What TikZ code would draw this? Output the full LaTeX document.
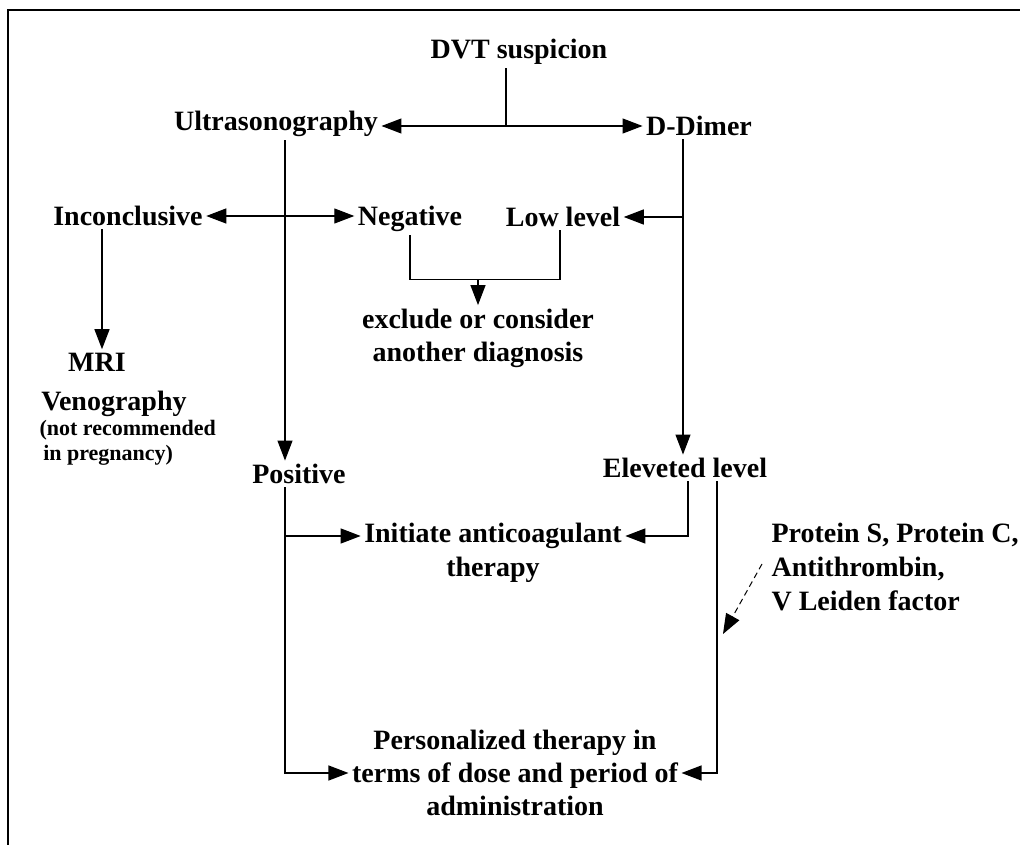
\documentclass[tikz,border=0pt]{standalone}
\usepackage{fontspec}
\setmainfont{Liberation Serif}
\usetikzlibrary{arrows.meta}

\begin{document}
\begin{tikzpicture}[x=0.5pt,y=-0.5pt,line width=0.6pt,
                   every node/.style={font=\bfseries\fontsize{14}{16.5}\selectfont,inner sep=1.5pt},
                   arr/.style={-{Triangle[length=10pt,width=7.5pt]}}]
\useasboundingbox (0,0) rectangle (1024,845);
\draw (8,845) -- (8,10) -- (1020,10);
\node (dvt) at (519,52) {DVT suspicion};
\node (us) at (276,124) {Ultrasonography};
\node (dd) at (699,126) {D-Dimer};
\node (inc) at (128,216) {Inconclusive};
\node (neg) at (410,219) {Negative};
\node (low) at (563,217) {Low level};
\node (mri) at (97,362) {MRI};
\node (ven) at (114,404) {Venography};
\node[anchor=west,align=left,font=\bfseries\fontsize{11}{12.5}\selectfont] (note) at (36,443) {(not recommended\\\,in pregnancy)};
\node[align=center] (excl) at (478,338) {exclude or consider\\another diagnosis};
\node (pos) at (299,474) {Positive};
\node (elev) at (685,468) {Eleveted level};
\node[align=center,font=\bfseries\fontsize{14}{17}\selectfont] (init) at (493,553) {Initiate anticoagulant\\therapy};
\node[anchor=west,align=left,font=\bfseries\fontsize{14}{17}\selectfont] (prot) at (768,567) {Protein S, Protein C,\\Antithrombin,\\V Leiden factor};
\node[align=center] (pers) at (515,773) {Personalized therapy in\\terms of dose and period of\\administration};
\coordinate (pt) at (723,634);
\coordinate (initw) at ([yshift=8.5pt]init.west);
\coordinate (inite) at ([yshift=8.5pt]init.east);
\draw (dvt.south -| 506,0) -- (506,126) coordinate (j1);
\draw[arr] (j1) -- (j1 -| us.east);
\draw[arr] (j1) -- (j1 -| dd.west);
\draw[arr] ([xshift=4.5pt]us.south) coordinate (usd) -- (usd |- pos.north);
\draw[arr] ([xshift=-8pt]dd.south) coordinate (ddd) -- (ddd |- elev.north);
\draw[arr] (ddd |- low.east) -- (low.east);
\draw[{Triangle[length=10pt,width=7.5pt]}-{Triangle[length=10pt,width=7.5pt]}] (inc.east) -- (inc.east -| neg.west);
\draw[arr] ([xshift=-13pt]inc.south) coordinate (incd) -- (incd |- mri.north);
\draw (neg.south) -- ++(0,44) coordinate (nl) -| ([xshift=-1.5pt]low.south);
\draw[arr] (nl -| excl.north) -- (excl.north);
\draw[arr] (pos.south -| usd) |- (pers.west);
\draw[arr] (usd |- initw) -- (initw);
\draw[arr] ([xshift=1.5pt]elev.south) |- (inite);
\draw[arr] ([xshift=16pt]elev.south) |- (pers.east);
\draw[arr,densely dashed,line width=0.5pt] ([xshift=-3pt,yshift=1.5pt]prot.west) -- (pt);
\end{tikzpicture}
\end{document}
